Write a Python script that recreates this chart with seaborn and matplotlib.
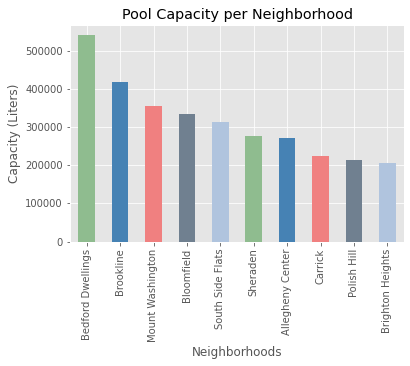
import matplotlib
matplotlib.use("Agg")
import matplotlib.pyplot as plt
import seaborn as sns
import pandas as pd

neighborhoods = ["Bedford Dwellings", "Brookline", "Mount Washington", "Bloomfield",
                 "South Side Flats", "Sheraden", "Allegheny Center", "Carrick",
                 "Polish Hill", "Brighton Heights"]
capacity = [539800, 417400, 355000, 334100, 313300, 276800, 271600, 224700, 214300, 206500]
colors = ["darkseagreen", "steelblue", "lightcoral", "slategray", "lightsteelblue"] * 2

plt.style.use("ggplot")
df = pd.DataFrame({"Neighborhood": neighborhoods, "Capacity": capacity})

fig = plt.figure(figsize=(410/72, 366/72), dpi=72)
ax = fig.add_axes([70/410, 1-241.5/366, (404-70)/410, (241.5-25)/366])
sns.barplot(data=df, x="Neighborhood", y="Capacity", hue="Neighborhood",
            palette=colors, width=0.5, saturation=1, legend=False, ax=ax)
ax.set_xlim(-0.5, len(neighborhoods) - 0.5)
ax.set_ylim(0, max(capacity) * 1.05)
ax.set_title("Pool Capacity per Neighborhood")
ax.set_xlabel("Neighborhoods")
ax.set_ylabel("Capacity (Liters)")
ax.tick_params(axis="x", labelrotation=90)
ax.grid(True, axis="both", color="white")
ax.set_axisbelow(True)
ax.ticklabel_format(axis="y", style="plain")
fig.savefig("out.png", dpi=72)
